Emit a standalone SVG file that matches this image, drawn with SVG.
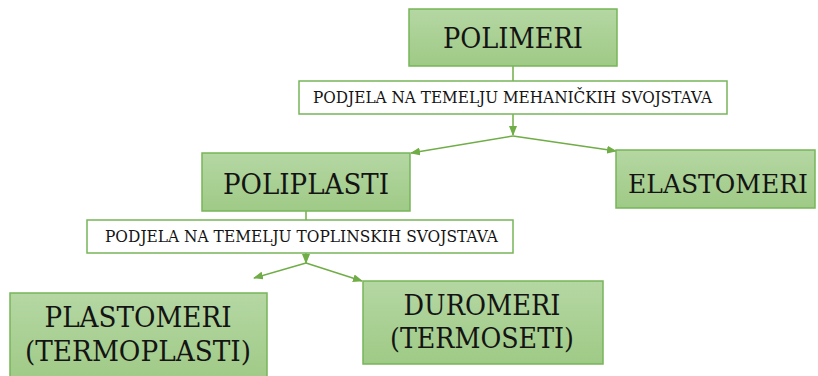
<svg xmlns="http://www.w3.org/2000/svg" width="818" height="376" viewBox="0 0 818 376">
<defs>
<linearGradient id="g" x1="0" y1="0" x2="0" y2="1">
<stop offset="0" stop-color="#b5d7a3"/>
<stop offset="1" stop-color="#9fca86"/>
</linearGradient>
<marker id="ah" markerUnits="userSpaceOnUse" markerWidth="10" markerHeight="8" refX="9" refY="4" orient="auto">
<path d="M0,0 L10,4 L0,8 Z" fill="#70ad47"/>
</marker>
<style>
.box{fill:url(#g);stroke:#77b55a;stroke-width:1.5}
.lab{fill:#ffffff;stroke:#77b55a;stroke-width:1.5}
.big{font-size:28px;fill:#141414;text-anchor:middle}
.sm{font-size:17.5px;fill:#141414}
.c{fill:none;stroke:#70ad47;stroke-width:1.5}
</style>
</defs>
<rect width="818" height="376" fill="#ffffff"/>
<g id="connectors">
<line class="c" x1="513" y1="66" x2="513" y2="81"/>
<line class="c" x1="513" y1="114" x2="513" y2="135" marker-end="url(#ah)"/>
<line class="c" x1="513" y1="136" x2="411" y2="153" marker-end="url(#ah)"/>
<line class="c" x1="513" y1="136" x2="616" y2="151" marker-end="url(#ah)"/>
<line class="c" x1="306" y1="211" x2="306" y2="220"/>
<line class="c" x1="306" y1="253" x2="306" y2="263" marker-end="url(#ah)"/>
<line class="c" x1="306" y1="263" x2="254" y2="278" marker-end="url(#ah)"/>
<line class="c" x1="306" y1="263" x2="362" y2="281" marker-end="url(#ah)"/>
</g>
<g font-family="DejaVu Serif, Liberation Serif, serif">
<g id="polimeri">
<rect class="box" x="409" y="9" width="208" height="57"/>
<text class="big" x="513" y="48" textLength="140" lengthAdjust="spacingAndGlyphs">POLIMERI</text>
</g>
<g id="label-mehanicki">
<rect class="lab" x="299" y="81" width="428" height="33"/>
<text class="sm" x="313" y="103" textLength="399" lengthAdjust="spacingAndGlyphs">PODJELA NA TEMELJU MEHANIČKIH SVOJSTAVA</text>
</g>
<g id="poliplasti">
<rect class="box" x="202" y="153" width="208" height="58"/>
<text class="big" x="306" y="194" textLength="166" lengthAdjust="spacingAndGlyphs">POLIPLASTI</text>
</g>
<g id="elastomeri">
<rect class="box" x="616" y="150" width="199" height="58"/>
<text class="big" x="718" y="193" style="font-size:26px" textLength="180" lengthAdjust="spacingAndGlyphs">ELASTOMERI</text>
</g>
<g id="label-toplinski">
<rect class="lab" x="87" y="220" width="426" height="33"/>
<text class="sm" x="105" y="242" textLength="393" lengthAdjust="spacingAndGlyphs">PODJELA NA TEMELJU TOPLINSKIH SVOJSTAVA</text>
</g>
<g id="plastomeri">
<rect class="box" x="10" y="293" width="257" height="90"/>
<text class="big" x="138" y="327" textLength="187" lengthAdjust="spacingAndGlyphs">PLASTOMERI</text>
<text class="big" x="138" y="361" textLength="226" lengthAdjust="spacingAndGlyphs">(TERMOPLASTI)</text>
</g>
<g id="duromeri">
<rect class="box" x="363" y="281" width="240" height="83"/>
<text class="big" x="482" y="315" textLength="157" lengthAdjust="spacingAndGlyphs">DUROMERI</text>
<text class="big" x="482" y="348" textLength="184" lengthAdjust="spacingAndGlyphs">(TERMOSETI)</text>
</g>
</g>
</svg>
